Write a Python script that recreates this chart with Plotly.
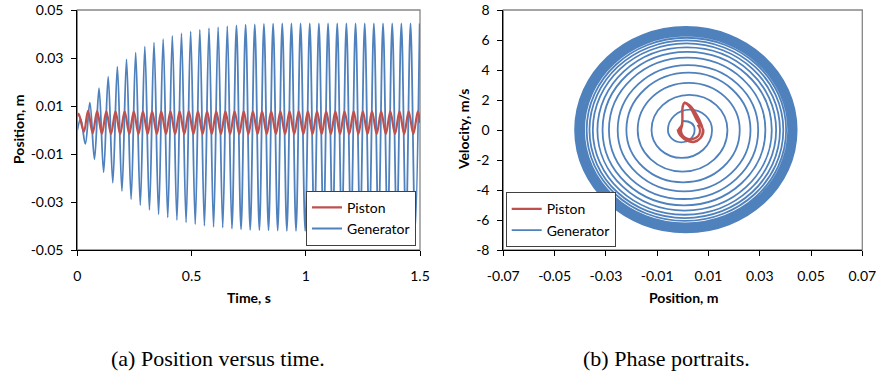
import plotly.graph_objects as go

# ---------------- data ----------------
# Generator: start value, then alternating peaks / troughs of position (m)
gen_start_t = 0.0
gen_start_x = 0.0
gen_start_v = 0.6

gen_peak_t = [0.0149, 0.0550, 0.0951, 0.1352, 0.1753, 0.2154, 0.2555, 0.2956, 0.3357, 0.3758,
              0.4159, 0.4560, 0.4961, 0.5362, 0.5763, 0.6164, 0.6565, 0.6966, 0.7367, 0.7768,
              0.8169, 0.8570, 0.8971, 0.9372, 0.9773, 1.0174, 1.0575, 1.0976, 1.1377, 1.1778,
              1.2179, 1.2580, 1.2981, 1.3382, 1.3783, 1.4184, 1.4585, 1.4986]
gen_peak_x = [0.0046, 0.0114, 0.0174, 0.0222, 0.0264, 0.0294, 0.0322, 0.0347, 0.0364, 0.0379,
              0.0392, 0.0403, 0.0411, 0.0418, 0.0424, 0.0429, 0.0433, 0.0436, 0.0439, 0.0440,
              0.0442, 0.0443, 0.0444, 0.0444, 0.0444, 0.0444, 0.0444, 0.0444, 0.0444, 0.0444,
              0.0444, 0.0444, 0.0444, 0.0444, 0.0444, 0.0444, 0.0444, 0.0444]
gen_trough_t = [0.0350, 0.0751, 0.1152, 0.1553, 0.1954, 0.2355, 0.2756, 0.3157, 0.3558, 0.3959,
                0.4360, 0.4761, 0.5162, 0.5563, 0.5964, 0.6365, 0.6766, 0.7167, 0.7568, 0.7969,
                0.8370, 0.8771, 0.9172, 0.9573, 0.9974, 1.0375, 1.0776, 1.1177, 1.1578, 1.1979,
                1.2380, 1.2781, 1.3182, 1.3583, 1.3984, 1.4385, 1.4786]
gen_trough_x = [-0.0058, -0.0122, -0.0176, -0.0220, -0.0254, -0.0288, -0.0313, -0.0333, -0.0351, -0.0364,
                -0.0375, -0.0385, -0.0392, -0.0399, -0.0404, -0.0407, -0.0411, -0.0414, -0.0416, -0.0417,
                -0.0418, -0.0419, -0.0420, -0.0420, -0.0420, -0.0420, -0.0420, -0.0420, -0.0420, -0.0420,
                -0.0420, -0.0420, -0.0420, -0.0420, -0.0420, -0.0420, -0.0420]
# Generator velocity extremes (m/s): falling half-cycles (negative) and rising half-cycles (positive)
gen_vel_fall = [0.82, 1.86, 2.77, 3.49, 4.09, 4.60, 5.02, 5.37, 5.65, 5.87,
                6.06, 6.23, 6.34, 6.45, 6.54, 6.60, 6.67, 6.72, 6.75, 6.77,
                6.79, 6.81, 6.82, 6.83, 6.83, 6.83, 6.83, 6.83, 6.83, 6.83,
                6.83, 6.83, 6.83, 6.83, 6.83, 6.83, 6.83]
gen_vel_rise = [1.36, 2.34, 3.14, 3.82, 4.33, 4.82, 5.21, 5.51, 5.77, 5.97,
                6.15, 6.29, 6.40, 6.50, 6.58, 6.64, 6.69, 6.74, 6.76, 6.79,
                6.81, 6.83, 6.84, 6.85, 6.86, 6.87, 6.87, 6.87, 6.87, 6.87,
                6.87, 6.87, 6.87, 6.87, 6.87, 6.87, 6.87]

# Piston: start, peaks, troughs, end
pis_start_t = 0.0
pis_start_x = 0.0058
pis_peak_t = [0.0060, 0.0468, 0.0869, 0.1270, 0.1671, 0.2072, 0.2473, 0.2874, 0.3275, 0.3676,
              0.4077, 0.4478, 0.4879, 0.5280, 0.5681, 0.6082, 0.6483, 0.6884, 0.7285, 0.7686,
              0.8087, 0.8488, 0.8889, 0.9290, 0.9691, 1.0092, 1.0493, 1.0894, 1.1295, 1.1696,
              1.2097, 1.2498, 1.2899, 1.3300, 1.3701, 1.4102, 1.4503, 1.4904]
pis_peak_x = [0.0067, 0.0080, 0.0079, 0.0078, 0.0078, 0.0078, 0.0078, 0.0078, 0.0078, 0.0078,
              0.0078, 0.0078, 0.0078, 0.0078, 0.0078, 0.0078, 0.0078, 0.0078, 0.0078, 0.0078,
              0.0078, 0.0078, 0.0078, 0.0078, 0.0078, 0.0078, 0.0078, 0.0078, 0.0078, 0.0078,
              0.0078, 0.0078, 0.0078, 0.0078, 0.0078, 0.0078, 0.0078, 0.0078]
pis_trough_t = [0.0290, 0.0673, 0.1074, 0.1475, 0.1876, 0.2277, 0.2678, 0.3079, 0.3480, 0.3881,
                0.4282, 0.4683, 0.5084, 0.5485, 0.5886, 0.6287, 0.6688, 0.7089, 0.7490, 0.7891,
                0.8292, 0.8693, 0.9094, 0.9495, 0.9896, 1.0297, 1.0698, 1.1099, 1.1500, 1.1901,
                1.2302, 1.2703, 1.3104, 1.3505, 1.3906, 1.4307, 1.4708]
pis_trough_x = [-0.0007, -0.0014, -0.0016, -0.0017, -0.0017, -0.0017, -0.0017, -0.0017, -0.0017, -0.0017,
                -0.0017, -0.0017, -0.0017, -0.0017, -0.0017, -0.0017, -0.0017, -0.0017, -0.0017, -0.0017,
                -0.0017, -0.0017, -0.0017, -0.0017, -0.0017, -0.0017, -0.0017, -0.0017, -0.0017, -0.0017,
                -0.0017, -0.0017, -0.0017, -0.0017, -0.0017, -0.0017, -0.0017]
pis_end_t = 1.5
pis_end_x = 0.0030

# Piston phase portrait (position m, velocity m/s)
pis_ph_pos = [0.0058, 0.0067, 0.0060, 0.0032, 0.0008, -0.0004, -0.0007,
              -0.0002, 0.0000, 0.0007, 0.0026, 0.0040, 0.0056, 0.0080,
              0.0071, 0.0045, 0.0017, -0.0003, -0.0012, -0.0014,
              -0.0003, 0.0000, 0.0006, 0.0027, 0.0043, 0.0060, 0.0078,
              0.0069, 0.0044, 0.0016, -0.0004, -0.0015, -0.0017,
              -0.0004, -0.0001, 0.0006, 0.0030, 0.0048, 0.0064, 0.0078,
              0.0069, 0.0045, 0.0016, -0.0004, -0.0016, -0.0020]
pis_ph_vel = [0.35, 0.00, -0.40, -0.62, -0.50, -0.25, 0.00,
              0.35, 1.55, 1.78, 1.55, 1.15, 0.60, 0.00,
              -0.50, -0.78, -0.70, -0.45, -0.20, 0.00,
              0.35, 1.55, 1.82, 1.65, 1.30, 0.75, 0.00,
              -0.52, -0.80, -0.72, -0.47, -0.20, 0.00,
              0.35, 1.55, 1.82, 1.58, 1.20, 0.70, 0.00,
              -0.52, -0.80, -0.72, -0.47, -0.20, 0.05]

time_tickvals = [0, 0.5, 1, 1.5]
time_ticktext = ["0", "0.5", "1", "1.5"]
pos_tickvals = [-0.05, -0.03, -0.01, 0.01, 0.03, 0.05]
pos_ticktext = ["-0.05", "-0.03", "-0.01", "0.01", "0.03", "0.05"]
ph_x_tickvals = [-0.07, -0.05, -0.03, -0.01, 0.01, 0.03, 0.05, 0.07]
ph_x_ticktext = ["-0.07", "-0.05", "-0.03", "-0.01", "0.01", "0.03", "0.05", "0.07"]
vel_tickvals = [-8, -6, -4, -2, 0, 2, 4, 6, 8]
vel_ticktext = ["-8", "-6", "-4", "-2", "0", "2", "4", "6", "8"]

# ---------------- assemble series ----------------
gen_t = [gen_start_t]
gen_x = [gen_start_x]
for k in range(len(gen_trough_t)):
    gen_t += [gen_peak_t[k], gen_trough_t[k]]
    gen_x += [gen_peak_x[k], gen_trough_x[k]]
gen_t.append(gen_peak_t[-1])
gen_x.append(gen_peak_x[-1])

pis_t = [pis_start_t]
pis_x = [pis_start_x]
for k in range(len(pis_trough_t)):
    pis_t += [pis_peak_t[k], pis_trough_t[k]]
    pis_x += [pis_peak_x[k], pis_trough_x[k]]
pis_t += [pis_peak_t[-1], pis_end_t]
pis_x += [pis_peak_x[-1], pis_end_x]

# Generator phase portrait: a spiral through the position extremes (v = 0) and the
# velocity extremes of every half cycle, drawn as elliptic arcs in data coordinates.
KAPPA = 0.5523
def fmt(a, b):
    return f"{a:.6f},{b:.4f}"

spiral = (f"M {fmt(gen_start_x, gen_start_v)} "
          f"Q {fmt(gen_peak_x[0], gen_start_v)} {fmt(gen_peak_x[0], 0)}")
for k in range(len(gen_trough_x)):
    P, T, Pn = gen_peak_x[k], gen_trough_x[k], gen_peak_x[k + 1]
    m, v = (P + T) / 2, gen_vel_fall[k]
    spiral += (f" C {fmt(P, -KAPPA * v)} {fmt(m + KAPPA * (P - m), -v)} {fmt(m, -v)}"
               f" C {fmt(m - KAPPA * (m - T), -v)} {fmt(T, -KAPPA * v)} {fmt(T, 0)}")
    mu, vu = (T + Pn) / 2, gen_vel_rise[k]
    spiral += (f" C {fmt(T, KAPPA * vu)} {fmt(mu - KAPPA * (mu - T), vu)} {fmt(mu, vu)}"
               f" C {fmt(mu + KAPPA * (Pn - mu), vu)} {fmt(Pn, KAPPA * vu)} {fmt(Pn, 0)}")

BLUE = "#4F81BD"
RED = "#C0504D"
FONT = "Lato"

fig = go.Figure()
fig.add_trace(go.Scatter(x=gen_t, y=gen_x, mode="lines", name="Generator",
                         line=dict(color=BLUE, width=1.8, shape="spline", smoothing=1.0),
                         xaxis="x", yaxis="y", legend="legend"))
fig.add_trace(go.Scatter(x=pis_t, y=pis_x, mode="lines", name="Piston",
                         line=dict(color=RED, width=2.2, shape="spline", smoothing=1.0),
                         xaxis="x", yaxis="y", legend="legend"))
# legend entry for the generator spiral (the spiral itself is a path in data coordinates)
fig.add_trace(go.Scatter(x=[None], y=[None], mode="lines", name="Generator",
                         line=dict(color=BLUE, width=1.8),
                         xaxis="x2", yaxis="y2", legend="legend2"))
fig.add_trace(go.Scatter(x=pis_ph_pos, y=pis_ph_vel, mode="lines", name="Piston",
                         line=dict(color=RED, width=2.2, shape="spline", smoothing=1.0),
                         xaxis="x2", yaxis="y2", legend="legend2"))

W, H = 877, 381
def px(x):
    return x / W
def py(y):
    return 1 - y / H

axis_common = dict(showgrid=False, zeroline=False, showline=True, linecolor="#000000",
                   linewidth=1, ticks="outside", ticklen=5, tickcolor="#000000", tickwidth=1,
                   tickfont=dict(family=FONT, size=14, color="#000000"), tickmode="array",
                   automargin=False)

fig.update_layout(
    width=W, height=H, autosize=False,
    margin=dict(l=0, r=0, t=0, b=0, pad=0, autoexpand=False),
    paper_bgcolor="white", plot_bgcolor="rgba(0,0,0,0)",
    xaxis=dict(domain=[px(77.3), px(420)], range=[0, 1.5], tickvals=time_tickvals,
               ticktext=time_ticktext, anchor="y", ticklabelstandoff=8, **axis_common),
    yaxis=dict(domain=[py(250), py(10)], range=[-0.05, 0.05], tickvals=pos_tickvals,
               ticktext=pos_ticktext, anchor="x", ticklabelstandoff=5, **axis_common),
    xaxis2=dict(domain=[px(503.3), px(862.3)], range=[-0.07, 0.07], tickvals=ph_x_tickvals,
                ticktext=ph_x_ticktext, anchor="y2", ticklabelstandoff=8, **axis_common),
    yaxis2=dict(domain=[py(250), py(10)], range=[-8, 8], tickvals=vel_tickvals,
                ticktext=vel_ticktext, anchor="x2", ticklabelstandoff=5, **axis_common),
    legend=dict(x=px(416), xanchor="right", y=py(245.7), yanchor="bottom",
                bgcolor="white", bordercolor="#404040", borderwidth=1,
                font=dict(family=FONT, size=14, color="#000000"),
                traceorder="reversed", itemwidth=30, tracegroupgap=0),
    legend2=dict(x=px(505.7), xanchor="left", y=py(247.3), yanchor="bottom",
                 bgcolor="white", bordercolor="#404040", borderwidth=1,
                 font=dict(family=FONT, size=14, color="#000000"),
                 traceorder="reversed", itemwidth=30, tracegroupgap=0),
    showlegend=True,
)

border = dict(type="rect", x0=0, x1=1, y0=0, y1=1, line=dict(color="#868686", width=1.3),
              layer="below")
fig.add_shape(xref="x domain", yref="y domain", **border)
fig.add_shape(xref="x2 domain", yref="y2 domain", **border)
fig.add_shape(type="path", path=spiral, xref="x2", yref="y2",
              line=dict(color=BLUE, width=1.8), layer="below")

title_font = dict(family=FONT, size=14, color="#000000", weight="bold")
annos = [
    dict(text="Position, m", x=px(18), y=py(130), textangle=-90),
    dict(text="Time, s", x=px(249), y=py(297)),
    dict(text="Velocity, m/s", x=px(463), y=py(129), textangle=-90),
    dict(text="Position, m", x=px(683), y=py(297)),
]
for a in annos:
    fig.add_annotation(xref="paper", yref="paper", showarrow=False, xanchor="center",
                       yanchor="middle", font=title_font, **a)

cap_font = dict(family="Liberation Serif", size=22, color="#000000")
fig.add_annotation(text="(a) Position versus time.", x=px(218), y=py(358), xref="paper",
                   yref="paper", showarrow=False, xanchor="center", yanchor="middle",
                   font=cap_font)
fig.add_annotation(text="(b) Phase portraits.", x=px(666), y=py(358), xref="paper",
                   yref="paper", showarrow=False, xanchor="center", yanchor="middle",
                   font=cap_font)

# remove the browser's default 8px body margin so the figure fills the window exactly
fig.write_html("out.html", config={"displayModeBar": False},
               post_script="document.body.style.margin='0px';document.body.style.padding='0px';")
